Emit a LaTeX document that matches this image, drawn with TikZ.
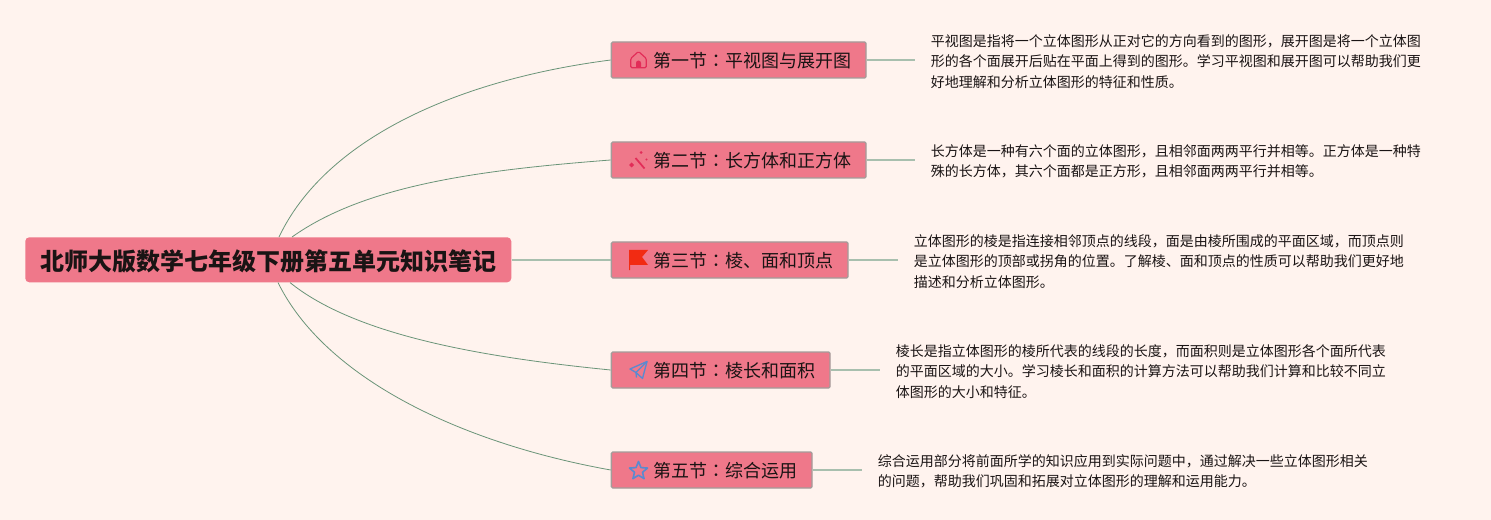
\documentclass[tikz,border=0pt]{standalone}
\usepackage{fontspec}
\setmainfont{Noto Sans CJK SC}
\newfontfamily\colonfont{Noto Sans CJK TC}
\newcommand{\midcolon}{{\colonfont ：}}

\definecolor{pagebg}{HTML}{FFF3EE}
\definecolor{boxpink}{HTML}{EF788A}
\definecolor{boxline}{HTML}{A39C9A}
\definecolor{curvegreen}{HTML}{6A9478}
\definecolor{stubgreen}{HTML}{A8BFAE}
\definecolor{iconred}{HTML}{E22D58}
\definecolor{iconblue}{HTML}{5A8AD0}
\definecolor{flagred}{HTML}{F22B12}
\definecolor{inktext}{HTML}{1A1414}

\tikzset{
	rootbox/.style={fill=boxpink,rounded corners=3pt,inner xsep=11.25pt,inner ysep=0pt,minimum height=33.75pt,text height=17.5pt,text depth=2pt,text=inktext,font=\fontsize{18}{22}\selectfont\bfseries},
	sectionbox/.style={fill=boxpink,draw=boxline,line width=1pt,rounded corners=1pt,inner xsep=11.25pt,inner ysep=0pt,minimum height=27pt,text height=13.4pt,text depth=1.6pt,text=inktext,font=\fontsize{13.5}{16}\selectfont},
	notetext/.style={align=left,inner xsep=11.75pt,inner ysep=0pt,text=inktext,font=\fontsize{10.5}{15.4}\selectfont},
	curveline/.style={draw=curvegreen,line width=0.6pt},
	stubline/.style={draw=stubgreen,line width=1.2pt}
}

\begin{document}
\begin{tikzpicture}[x=0.75pt,y=-0.75pt]
	
	% Page
	\fill[pagebg] (0,0) rectangle (1491,520);
	\useasboundingbox (0,0) rectangle (1491,520);
	
	%------------------------------
	% Root and sections
	%------------------------------
	\node[rootbox,anchor=west] (root) at (25,259.8) {北师大版数学七年级下册第五单元知识笔记};
	
	\node[sectionbox,anchor=west] (sec1) at (610.7,60) {\hspace*{20pt}第一节\midcolon 平视图与展开图};
	\node[sectionbox,anchor=west] (sec2) at (610.7,160) {\hspace*{20pt}第二节\midcolon 长方体和正方体};
	\node[sectionbox,anchor=west] (sec3) at (610.7,260) {\hspace*{20pt}第三节\midcolon 棱、面和顶点};
	\node[sectionbox,anchor=west] (sec4) at (610.7,370) {\hspace*{20pt}第四节\midcolon 棱长和面积};
	\node[sectionbox,anchor=west] (sec5) at (610.7,470) {\hspace*{20pt}第五节\midcolon 综合运用};
	
	%------------------------------
	% Notes
	%------------------------------
	\node[notetext,anchor=west] (note1) at (915,61.5) {平视图是指将一个立体图形从正对它的方向看到的图形，展开图是将一个立体图\\形的各个面展开后贴在平面上得到的图形。学习平视图和展开图可以帮助我们更\\好地理解和分析立体图形的特征和性质。};
	\node[notetext,anchor=west] (note2) at (915,161.5) {长方体是一种有六个面的立体图形，且相邻面两两平行并相等。正方体是一种特\\殊的长方体，其六个面都是正方形，且相邻面两两平行并相等。};
	\node[notetext,anchor=west] (note3) at (898,261.5) {立体图形的棱是指连接相邻顶点的线段，面是由棱所围成的平面区域，而顶点则\\是立体图形的顶部或拐角的位置。了解棱、面和顶点的性质可以帮助我们更好地\\描述和分析立体图形。};
	\node[notetext,anchor=west] (note4) at (880,371.5) {棱长是指立体图形的棱所代表的线段的长度，而面积则是立体图形各个面所代表\\的平面区域的大小。学习棱长和面积的计算方法可以帮助我们计算和比较不同立\\体图形的大小和特征。};
	\node[notetext,anchor=west] (note5) at (862,471.5) {综合运用部分将前面所学的知识应用到实际问题中，通过解决一些立体图形相关\\的问题，帮助我们巩固和拓展对立体图形的理解和运用能力。};
	
	%------------------------------
	% Connectors
	%------------------------------
	\draw[curveline] ([xshift=190.5pt]root.north west) .. controls (325,140) and (455,80) .. (sec1.west);
	\draw[curveline] ([xshift=200.25pt]root.north west) .. controls (365,185) and (480,170) .. (sec2.west);
	\draw[stubline] (root.east) -- (root.east -| sec3.west);
	\draw[curveline] ([xshift=198.75pt]root.south west) .. controls (355,335) and (480,357) .. (sec4.west);
	\draw[curveline] ([xshift=189.75pt]root.south west) .. controls (325,378) and (460,443) .. (sec5.west);
	
	\foreach \i in {1,...,5}
	\draw[stubline] (sec\i.east) -- (sec\i.east -| note\i.west);
	
	%------------------------------
	% Icons
	%------------------------------
	% House
	\begin{scope}[shift={(638.5,60)}]
		\draw[iconred,line width=0.9pt,rounded corners=1pt] (-7.8,7.8) -- (-7.8,-1.5) -- (0,-8.5) -- (7.8,-1.5) -- (7.8,7.8) -- cycle;
		\fill[iconred] (-2.5,7.8) -- (-2.5,3) arc (180:360:2.5) -- (2.5,7.8) -- cycle;
	\end{scope}
	
	% Wand
	\begin{scope}[shift={(638.5,160.5)}]
		\draw[iconred,line width=1.3pt] (-3,-2.5) -- (6,8);
		\fill[iconred] (-9.5,4.5) -- (-7,2) -- (-4.5,4.5) -- (-7,7) -- cycle;
		\fill[iconred] (1,-8) -- (2.5,-9.5) -- (4,-8) -- (2.5,-6.5) -- cycle;
		\fill[iconred] (6.8,-1) -- (8,-2.2) -- (9.2,-1) -- (8,0.2) -- cycle;
	\end{scope}
	
	% Flag
	\begin{scope}[shift={(638.5,260)}]
		\fill[flagred] (-9.5,-10) -- (9.5,-10) -- (3.5,-3) -- (9.5,5) -- (-8.5,5) -- (-8.5,10) -- (-9.5,10) -- cycle;
	\end{scope}
	
	% Paper plane
	\begin{scope}[shift={(638.5,370)}]
		\draw[iconblue,line width=1pt,line join=round] (8.5,-8.5) -- (-8.5,-1) -- (-2.5,2.5) -- (4,8.5) -- cycle;
		\draw[iconblue,line width=1pt] (8.5,-8.5) -- (-2.5,2.5) -- (-2,7.5);
	\end{scope}
	
	% Star
	\begin{scope}[shift={(638.5,471)}]
		\draw[iconblue,line width=1.2pt,line join=round] (-90:9.5) -- (-54:4.2) -- (-18:9.5) -- (18:4.2) -- (54:9.5) -- (90:4.2) -- (126:9.5) -- (162:4.2) -- (198:9.5) -- (234:4.2) -- cycle;
	\end{scope}
	
\end{tikzpicture}
\end{document}
